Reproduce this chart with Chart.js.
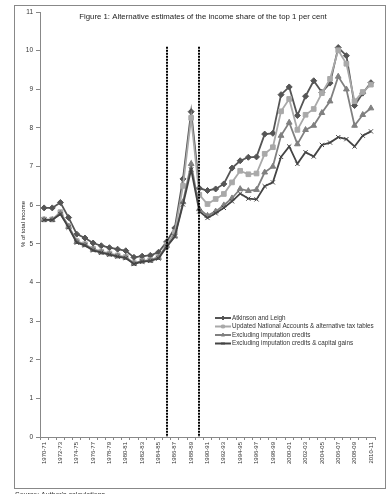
<!DOCTYPE html>
<html>
<head>
<meta charset="utf-8">
<script src="https://cdn.jsdelivr.net/npm/chart.js@4"></script>
<style>
  body { margin: 0; background: #fff; }
  canvas { display: block; }
</style>
</head>
<body>
<canvas id="shareChart" width="390" height="494"></canvas>
<script>
const years = [
    '1970-71', '1971-72', '1972-73', '1973-74', '1974-75', '1975-76', '1976-77', '1977-78', '1978-79', '1979-80',
    '1980-81', '1981-82', '1982-83', '1983-84', '1984-85', '1985-86', '1986-87', '1987-88', '1988-89', '1989-90',
    '1990-91', '1991-92', '1992-93', '1993-94', '1994-95', '1995-96', '1996-97', '1997-98', '1998-99', '1999-00',
    '2000-01', '2001-02', '2002-03', '2003-04', '2004-05', '2005-06', '2006-07', '2007-08', '2008-09', '2009-10',
    '2010-11'
];

const atkinsonLeigh = [5.93, 5.93, 6.07, 5.68, 5.25, 5.15, 5.02, 4.95, 4.90, 4.86, 4.82, 4.65, 4.68, 4.70, 4.78, 5.05, 5.41, 6.68, 8.42, 6.44, 6.38, 6.42, 6.55, 6.96, 7.15, 7.24, 7.25, 7.84, 7.86, 8.86, 9.06, 8.32, 8.82, 9.22, 8.92, 9.16, 10.08, 9.87, 8.58, 8.90, 9.17];
const updatedAccounts = [5.63, 5.63, 5.82, 5.46, 5.07, 4.99, 4.87, 4.80, 4.75, 4.70, 4.66, 4.50, 4.56, 4.58, 4.66, 4.97, 5.30, 6.50, 8.26, 6.27, 6.03, 6.16, 6.29, 6.59, 6.89, 6.80, 6.82, 7.33, 7.50, 8.43, 8.75, 7.95, 8.34, 8.49, 8.90, 9.27, 10.01, 9.66, 8.69, 8.93, 9.12];
const exclImputation = [5.62, 5.62, 5.78, 5.44, 5.05, 4.97, 4.85, 4.78, 4.73, 4.68, 4.64, 4.49, 4.55, 4.57, 4.64, 4.95, 5.20, 6.08, 7.07, 5.90, 5.73, 5.84, 6.00, 6.18, 6.42, 6.37, 6.40, 6.85, 7.00, 7.80, 8.14, 7.58, 7.95, 8.06, 8.39, 8.69, 9.33, 9.00, 8.06, 8.34, 8.51];
const exclCapGains = [5.62, 5.62, 5.77, 5.42, 5.03, 4.96, 4.83, 4.77, 4.72, 4.67, 4.63, 4.48, 4.54, 4.56, 4.62, 4.92, 5.19, 6.02, 6.92, 5.84, 5.67, 5.79, 5.93, 6.10, 6.30, 6.17, 6.15, 6.49, 6.59, 7.25, 7.52, 7.07, 7.37, 7.26, 7.56, 7.62, 7.76, 7.71, 7.52, 7.80, 7.91];

const seriesNames = [
    'Atkinson and Leigh',
    'Updated National Accounts & alternative tax tables',
    'Excluding imputation credits',
    'Excluding imputation credits & capital gains'
];
// categories where the dotted break lines sit
const breakYears = ['1985-86', '1989-90'];

const chartTitle = 'Figure 1: Alternative estimates of the income share of the top 1 per cent';
const yTitle = '% of total income';
const sourceNote = "Source: Author's calculations";

const fontFamily = '"Liberation Sans", Arial, sans-serif';

// title, y title, break lines, legend, frame and source note
const extrasPlugin = {
    id: 'extras',
    afterDatasetsDraw(chart) {
        const { ctx, chartArea, scales } = chart;
        ctx.save();

        // dotted break lines
        ctx.strokeStyle = '#000';
        ctx.lineWidth = 2;
        ctx.setLineDash([2, 1]);
        breakYears.forEach(label => {
            const x = Math.round(scales.x.getPixelForValue(years.indexOf(label)));
            ctx.beginPath();
            ctx.moveTo(x, scales.y.getPixelForValue(10.1));
            ctx.lineTo(x, chartArea.bottom);
            ctx.stroke();
        });
        ctx.setLineDash([]);

        // title
        ctx.fillStyle = '#222';
        ctx.font = '7.8px ' + fontFamily;
        ctx.textAlign = 'center';
        ctx.textBaseline = 'middle';
        ctx.fillText(chartTitle, 203, 17);

        // y axis title
        ctx.save();
        ctx.translate(23, 224);
        ctx.rotate(-Math.PI / 2);
        ctx.font = '6px ' + fontFamily;
        ctx.fillText(yTitle, 0, 0);
        ctx.restore();

        // legend
        ctx.font = '6.3px ' + fontFamily;
        ctx.textAlign = 'left';
        chart.data.datasets.forEach((ds, i) => {
            const y = 318 + i * 8.5;
            ctx.strokeStyle = ds.borderColor;
            ctx.lineWidth = 2;
            ctx.beginPath();
            ctx.moveTo(215, y);
            ctx.lineTo(231, y);
            ctx.stroke();
            ctx.fillStyle = ds.pointBackgroundColor;
            ctx.strokeStyle = ds.pointBorderColor;
            ctx.lineWidth = 1;
            Chart.helpers.drawPoint(ctx, {
                pointStyle: ds.pointStyle,
                radius: 2,
                borderWidth: 1
            }, 223, y);
            ctx.fillStyle = '#333';
            ctx.fillText(seriesNames[i], 232, y);
        });

        // outer frame
        ctx.strokeStyle = '#888';
        ctx.lineWidth = 1;
        ctx.strokeRect(14.5, 5.5, 371, 483);

        // source note, cut by the picture edge
        ctx.fillStyle = '#333';
        ctx.font = '7px ' + fontFamily;
        ctx.textBaseline = 'top';
        ctx.fillText(sourceNote, 15, 492);

        ctx.restore();
    }
};

const ctx = document.getElementById('shareChart');
new Chart(ctx, {
    type: 'line',
    data: {
        labels: years,
        datasets: [
            {
                label: seriesNames[0],
                data: atkinsonLeigh,
                borderColor: '#555555',
                pointBackgroundColor: '#555555',
                pointBorderColor: '#555555',
                pointStyle: 'rectRot',
                pointRadius: 3,
                order: 4
            },
            {
                label: seriesNames[1],
                data: updatedAccounts,
                borderColor: '#a9a9a9',
                pointBackgroundColor: '#a9a9a9',
                pointBorderColor: '#a9a9a9',
                pointStyle: 'rect',
                pointRadius: 3.3,
                order: 3
            },
            {
                label: seriesNames[2],
                data: exclImputation,
                borderColor: '#808080',
                pointBackgroundColor: '#808080',
                pointBorderColor: '#808080',
                pointStyle: 'triangle',
                pointRadius: 3.3,
                order: 2
            },
            {
                label: seriesNames[3],
                data: exclCapGains,
                borderColor: '#444444',
                pointBackgroundColor: '#444444',
                pointBorderColor: '#444444',
                pointStyle: 'crossRot',
                pointRadius: 3,
                pointBorderWidth: 1,
                order: 1
            }
        ]
    },
    options: {
        responsive: false,
        animation: false,
        devicePixelRatio: 1,
        elements: {
            line: { borderWidth: 1.8, tension: 0 },
            point: { borderWidth: 1 }
        },
        layout: {
            padding: { top: 12, right: 15, left: 0, bottom: 0 }
        },
        plugins: {
            legend: { display: false },
            tooltip: { enabled: false },
            title: { display: false }
        },
        scales: {
            x: {
                offset: true,
                afterFit: (scale) => { scale.height = 57; },
                border: { color: '#888', width: 1 },
                grid: {
                    offset: true,
                    drawOnChartArea: false,
                    tickLength: 3,
                    color: '#888'
                },
                ticks: {
                    autoSkip: false,
                    maxRotation: 90,
                    minRotation: 90,
                    padding: 2,
                    color: '#333',
                    font: { family: fontFamily, size: 6 },
                    callback: (value, index) => index % 2 === 0 ? years[index] : ''
                }
            },
            y: {
                min: 0,
                max: 11,
                afterFit: (scale) => { scale.width = 40; },
                border: { color: '#888', width: 1 },
                grid: {
                    drawOnChartArea: false,
                    tickLength: 4,
                    color: '#888'
                },
                ticks: {
                    stepSize: 1,
                    padding: 3,
                    color: '#333',
                    font: { family: fontFamily, size: 6.5 }
                }
            }
        }
    },
    plugins: [extrasPlugin]
});
</script>
</body>
</html>
